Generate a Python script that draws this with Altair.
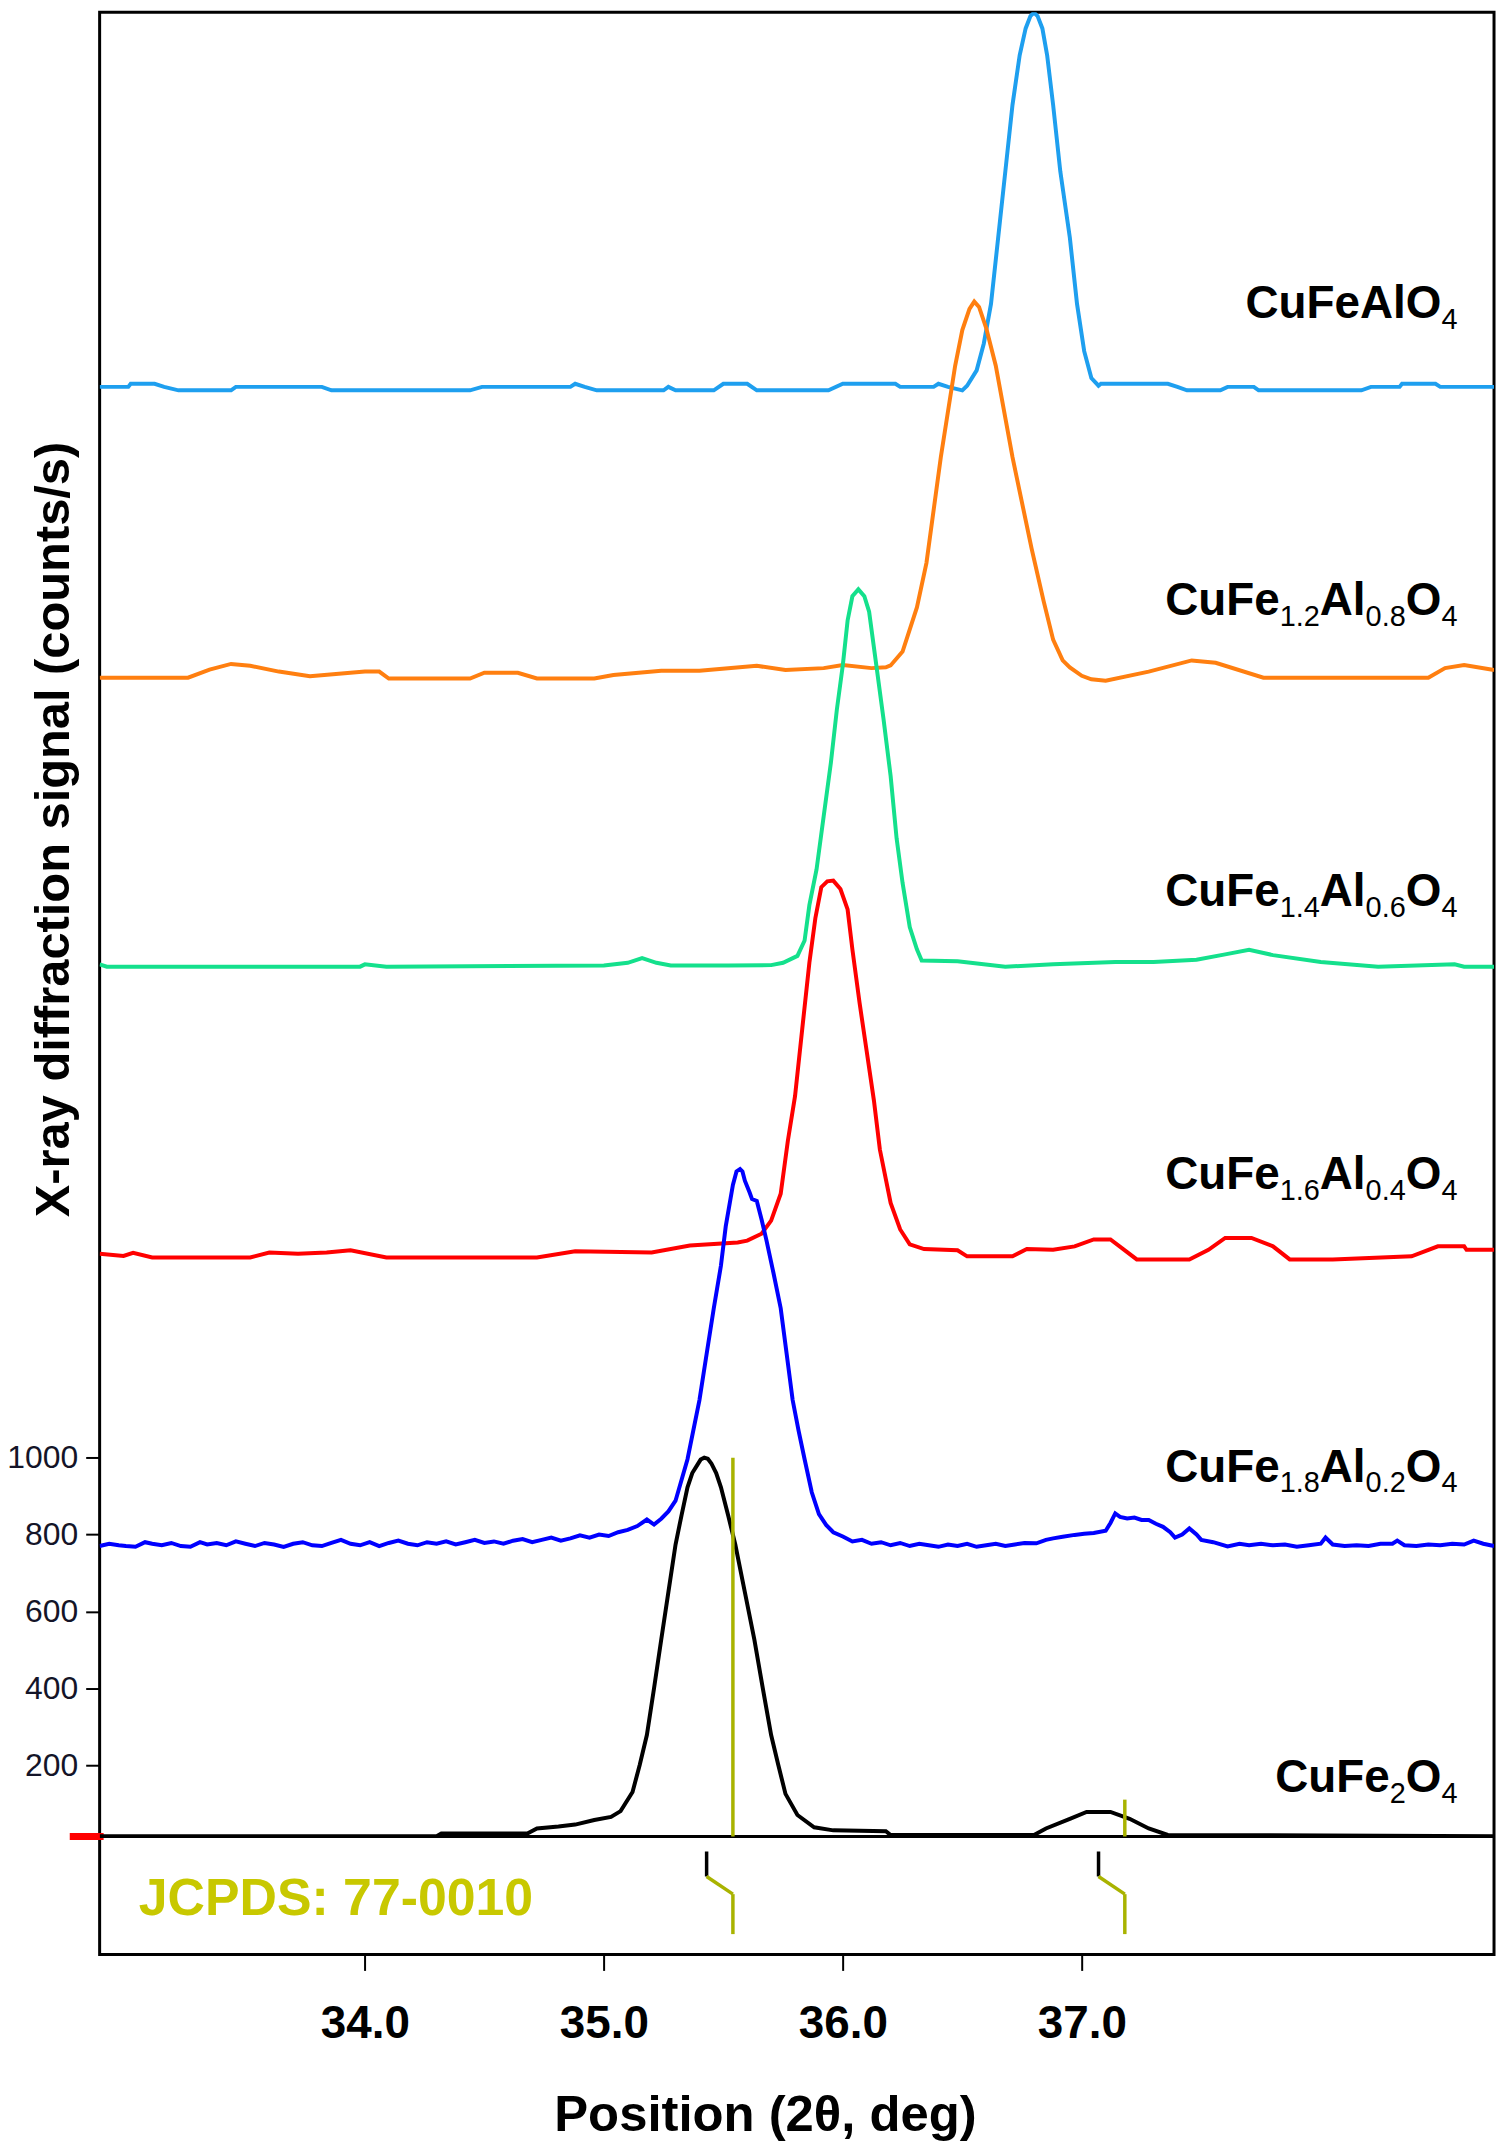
import altair as alt
import pandas as pd

# axis ranges (2-theta in deg, signal in counts/s incl. the stacking offset)
X_MIN, X_MAX = 32.89, 38.725
Y_MIN, Y_MAX = -293, 4762
W, H = 1400, 1950

# ---- patterns (offsets already included) ----
x_alo = [32.89, 33.01, 33.02, 33.12, 33.16, 33.22, 33.44, 33.46, 33.82, 33.86, 34.44, 34.49, 34.86,
         34.88, 34.92, 34.97, 35.25, 35.27, 35.30, 35.46, 35.50, 35.60, 35.64, 35.94, 36.00, 36.22,
         36.24, 36.38, 36.40, 36.44, 36.50, 36.52, 36.56, 36.59, 36.62, 36.65, 36.68, 36.71, 36.74,
         36.765, 36.785, 36.80, 36.815, 36.835, 36.855, 36.88, 36.91, 36.95, 36.98, 37.01, 37.04,
         37.07, 37.08, 37.36, 37.40, 37.44, 37.58, 37.61, 37.72, 37.74, 38.17, 38.21, 38.33, 38.34,
         38.48, 38.50, 38.725]
y_alo = [3787, 3787, 3795, 3795, 3787, 3778, 3778, 3787, 3787, 3778, 3778, 3787, 3787,
         3795, 3787, 3778, 3778, 3787, 3778, 3778, 3795, 3795, 3778, 3778, 3795, 3795,
         3787, 3787, 3795, 3787, 3778, 3790, 3830, 3900, 4003, 4175, 4348, 4521, 4650,
         4720, 4752, 4761, 4752, 4720, 4650, 4521, 4348, 4175, 4003, 3880, 3810,
         3790, 3795, 3795, 3787, 3778, 3778, 3787, 3787, 3778, 3778, 3787, 3787, 3795,
         3795, 3787, 3787]

x_al08 = [32.89, 33.26, 33.35, 33.44, 33.52, 33.64, 33.77, 34.00, 34.06, 34.10, 34.44, 34.50, 34.64,
          34.72, 34.96, 35.04, 35.24, 35.40, 35.64, 35.76, 35.92, 36.00, 36.12, 36.18, 36.20, 36.25,
          36.31, 36.35, 36.41, 36.47, 36.50, 36.53, 36.55, 36.57, 36.60, 36.64, 36.71, 36.79, 36.84,
          36.88, 36.92, 36.95, 37.00, 37.04, 37.10, 37.28, 37.46, 37.56, 37.76, 38.45, 38.52, 38.60,
          38.725]
y_al08 = [3030, 3030, 3051, 3066, 3061, 3046, 3034, 3046, 3046, 3028, 3028, 3043, 3043,
          3028, 3028, 3037, 3048, 3048, 3061, 3050, 3055, 3063, 3055, 3057, 3062, 3098,
          3213, 3329, 3604, 3842, 3935, 3990, 4009, 3995, 3940, 3842, 3604, 3366, 3230,
          3129, 3075, 3057, 3035, 3026, 3022, 3046, 3075, 3069, 3030, 3030, 3055, 3063,
          3050]

x_al06 = [32.89, 32.92, 33.98, 34.00, 34.09, 35.00, 35.10, 35.16, 35.22, 35.28, 35.52, 35.70, 35.75,
          35.81, 35.84, 35.86, 35.89, 35.92, 35.95, 35.975, 36.00, 36.02, 36.04, 36.065, 36.09, 36.11,
          36.14, 36.17, 36.20, 36.225, 36.25, 36.28, 36.31, 36.33, 36.48, 36.68, 36.88, 37.14, 37.30,
          37.48, 37.60, 37.70, 37.80, 38.00, 38.24, 38.56, 38.60, 38.725]
y_al06 = [2284, 2278, 2278, 2284, 2278, 2281, 2288, 2300, 2288, 2281, 2281, 2282, 2288,
          2306, 2346, 2438, 2531, 2670, 2809, 2947, 3063, 3179, 3242, 3260, 3242, 3202,
          3063, 2924, 2774, 2612, 2496, 2381, 2323, 2294, 2292, 2278, 2284, 2290, 2290,
          2296, 2310, 2322, 2308, 2290, 2278, 2284, 2278, 2278]

x_al04 = [32.89, 32.99, 33.03, 33.11, 33.52, 33.60, 33.72, 33.84, 33.94, 34.09, 34.72, 34.88, 35.20,
          35.36, 35.56, 35.60, 35.66, 35.70, 35.74, 35.77, 35.80, 35.83, 35.86, 35.885, 35.91, 35.935,
          35.96, 35.99, 36.02, 36.04, 36.07, 36.10, 36.13, 36.155, 36.20, 36.24, 36.28, 36.34, 36.48,
          36.52, 36.57, 36.71, 36.77, 36.88, 36.97, 37.05, 37.12, 37.23, 37.45, 37.53, 37.60, 37.71,
          37.80, 37.87, 38.05, 38.38, 38.49, 38.60, 38.61, 38.725]
y_al04 = [1531, 1525, 1533, 1521, 1521, 1534, 1531, 1534, 1540, 1521, 1521, 1537, 1534,
          1552, 1560, 1565, 1583, 1617, 1687, 1825, 1941, 2115, 2288, 2404, 2485, 2500,
          2502, 2480, 2427, 2323, 2184, 2057, 1930, 1802, 1663, 1594, 1555, 1543, 1540,
          1524, 1524, 1524, 1543, 1541, 1550, 1568, 1568, 1516, 1516, 1541, 1572, 1572,
          1550, 1516, 1516, 1524, 1550, 1550, 1541, 1541]

x_al02 = [32.89, 32.93, 32.97, 33.00, 33.04, 33.08, 33.11, 33.15, 33.19, 33.23, 33.27, 33.31, 33.34,
          33.38, 33.42, 33.46, 33.50, 33.54, 33.58, 33.62, 33.66, 33.70, 33.74, 33.78, 33.82, 33.86,
          33.90, 33.94, 33.98, 34.02, 34.06, 34.10, 34.14, 34.18, 34.22, 34.26, 34.30, 34.34, 34.38,
          34.42, 34.46, 34.50, 34.54, 34.58, 34.62, 34.66, 34.70, 34.74, 34.78, 34.82, 34.86, 34.90,
          34.94, 34.98, 35.02, 35.06, 35.10, 35.14, 35.18, 35.21, 35.24, 35.27, 35.30, 35.35, 35.40,
          35.43, 35.46, 35.49, 35.51, 35.54, 35.555, 35.57, 35.58, 35.59, 35.61, 35.62, 35.64, 35.66,
          35.68, 35.71, 35.74, 35.765, 35.79, 35.815, 35.84, 35.87, 35.90, 35.93, 35.96, 36.00,
          36.04, 36.08, 36.12, 36.16, 36.20, 36.24, 36.28, 36.32, 36.36, 36.40, 36.44, 36.48, 36.52,
          36.56, 36.60, 36.64, 36.68, 36.72, 36.76, 36.81, 36.85, 36.88, 36.92, 36.97, 37.01, 37.05,
          37.10, 37.12, 37.14, 37.16, 37.19, 37.22, 37.25, 37.28, 37.31, 37.34, 37.37, 37.39, 37.42,
          37.45, 37.48, 37.50, 37.55, 37.61, 37.66, 37.70, 37.75, 37.80, 37.85, 37.90, 37.95, 38.00,
          38.02, 38.05, 38.10, 38.15, 38.20, 38.25, 38.30, 38.32, 38.35, 38.40, 38.45, 38.50, 38.55,
          38.60, 38.64, 38.68, 38.725]
y_al02 = [770, 776, 772, 770, 768, 780, 776, 772, 778, 770, 768, 780, 774,
          778, 772, 782, 776, 770, 778, 774, 768, 776, 780, 772, 770, 778,
          786, 776, 772, 780, 770, 778, 784, 776, 772, 780, 776, 782, 774,
          780, 786, 778, 782, 776, 784, 788, 780, 786, 792, 784, 790, 798,
          792, 800, 796, 806, 812, 822, 839, 826, 841, 860, 888, 996, 1150,
          1270, 1389, 1500, 1602, 1710, 1745, 1751, 1745, 1721, 1690, 1673, 1668, 1620,
          1567, 1480, 1389, 1270, 1150, 1070, 996, 910, 853, 825, 806, 795,
          782, 786, 776, 780, 772, 778, 770, 776, 772, 768, 774, 770, 776,
          768, 772, 776, 770, 774, 778, 777, 786, 790, 794, 799, 802, 804,
          810, 830, 855, 846, 842, 844, 838, 838, 828, 820, 806, 792, 800,
          816, 800, 786, 780, 769, 776, 772, 776, 772, 774, 768, 772, 776,
          792, 774, 770, 772, 770, 776, 776, 784, 772, 770, 774, 772, 776,
          774, 784, 776, 770]

x_fe2 = [32.89, 34.30, 34.32, 34.68, 34.72, 34.81, 34.88, 34.96, 35.03, 35.07, 35.12, 35.15, 35.18,
         35.21, 35.24, 35.27, 35.30, 35.325, 35.35, 35.37, 35.39, 35.405, 35.42, 35.435, 35.45,
         35.47, 35.49, 35.52, 35.55, 35.59, 35.63, 35.665, 35.70, 35.73, 35.76, 35.81, 35.88, 35.96,
         36.18, 36.20, 36.80, 36.85, 36.95, 37.02, 37.12, 37.20, 37.28, 37.36, 38.725]
y_fe2 = [15, 15, 22, 22, 35, 40, 45, 57, 65, 80, 130, 200, 278,
         400, 526, 650, 774, 850, 923, 960, 980, 995, 1000, 997, 985,
         960, 923, 850, 774, 650, 526, 400, 278, 200, 125, 70, 38, 30,
         28, 18, 18, 35, 60, 78, 78, 60, 35, 18, 15]

series = [
    ("CuFeAlO4", x_alo, y_alo, "#1E9FEF"),
    ("CuFe1.2Al0.8O4", x_al08, y_al08, "#FF7F10"),
    ("CuFe1.4Al0.6O4", x_al06, y_al06, "#14E08C"),
    ("CuFe1.6Al0.4O4", x_al04, y_al04, "#FF0000"),
    ("CuFe1.8Al0.2O4", x_al02, y_al02, "#0000FF"),
    ("CuFe2O4", x_fe2, y_fe2, "#000000"),
]

# labels: (text, is_subscript) pieces, baseline level in counts
label_parts = [
    [("CuFeAlO", 0), ("4", 1)],
    [("CuFe", 0), ("1.2", 1), ("Al", 0), ("0.8", 1), ("O", 0), ("4", 1)],
    [("CuFe", 0), ("1.4", 1), ("Al", 0), ("0.6", 1), ("O", 0), ("4", 1)],
    [("CuFe", 0), ("1.6", 1), ("Al", 0), ("0.4", 1), ("O", 0), ("4", 1)],
    [("CuFe", 0), ("1.8", 1), ("Al", 0), ("0.2", 1), ("O", 0), ("4", 1)],
    [("CuFe", 0), ("2", 1), ("O", 0), ("4", 1)],
]
label_base = [3967, 3194, 2435, 1699, 938, 130]
LABEL_RIGHT = 38.572

# JCPDS 77-0010 reference lines
ref_pos = [35.54, 37.18]
ref_int = [1000, 110]
obs_pos = [35.43, 37.07]
yticks = [200, 400, 600, 800, 1000]
xticks = [34, 35, 36, 37]

MAIN_SIZE, SUB_SIZE = 46, 29
BOLD_W = {"C": 722, "u": 611, "F": 611, "e": 556, "A": 722, "l": 278, "O": 778}
REG_W = {".": 278}


def text_width(t, sub):
    if sub:
        return sum(REG_W.get(c, 556) for c in t) * SUB_SIZE / 1000
    return sum(BOLD_W[c] for c in t) * MAIN_SIZE / 1000


deg_px = W / (X_MAX - X_MIN)
main_rows, sub_rows = [], []
for parts, base in zip(label_parts, label_base):
    right = LABEL_RIGHT
    for t, sub in reversed(parts):
        (sub_rows if sub else main_rows).append({"x": right, "y": base, "t": t})
        right -= text_width(t, sub) / deg_px

xs = alt.Scale(domain=[X_MIN, X_MAX], nice=False, zero=False)
ys = alt.Scale(domain=[Y_MIN, Y_MAX], nice=False, zero=False)

x_axis = alt.Axis(values=xticks, format=".1f", labelFontSize=46, labelFontWeight="bold",
                  labelColor="black", tickSize=16, tickWidth=2, tickColor="black",
                  labelPadding=31, domain=False, grid=False,
                  title="Position (2θ, deg)", titleFontSize=51, titleFontWeight="bold",
                  titleColor="black", titleX=668, titleY=177, titleBaseline="alphabetic")
y_axis = alt.Axis(values=yticks, format="d", labelFontSize=32, labelFontWeight="normal",
                  labelColor="#141428", tickSize=14, tickWidth=2, tickColor="black", labelPadding=8,
                  domain=False, grid=False,
                  title="X-ray diffraction signal (counts/s)", titleFontSize=49,
                  titleFontWeight="bold", titleColor="black", titleX=-31, titleY=820,
                  titleBaseline="alphabetic")

# separator between pattern pane and reference pane
sep = alt.Chart(pd.DataFrame({"y": [14]})).mark_rule(color="black", strokeWidth=3).encode(
    y=alt.Y("y:Q", scale=ys, axis=y_axis)
)
red_mark = alt.Chart(pd.DataFrame({"y": [14]})).mark_rule(color="#FF0000", strokeWidth=7).encode(
    x=alt.value(-30), x2=alt.value(4), y=alt.Y("y:Q", scale=ys)
)

layers = [sep, red_mark]
for name, xv, yv, col in series:
    df = pd.DataFrame({"x": xv, "y": yv})
    layers.append(
        alt.Chart(df).mark_line(color=col, strokeWidth=4, clip=True).encode(
            x=alt.X("x:Q", scale=xs, axis=x_axis),
            y=alt.Y("y:Q", scale=ys),
        )
    )

# reference sticks and the leader lines in the lower pane
seg = []
for r, h, o in zip(ref_pos, ref_int, obs_pos):
    seg.append({"x": r, "y": 14, "x2": r, "y2": h, "c": "#A9B300"})
    seg.append({"x": o, "y": -25, "x2": o, "y2": -90, "c": "#000000"})
    seg.append({"x": o, "y": -90, "x2": r, "y2": -136, "c": "#A9B300"})
    seg.append({"x": r, "y": -136, "x2": r, "y2": -240, "c": "#A9B300"})
refs = alt.Chart(pd.DataFrame(seg)).mark_rule(strokeWidth=3.5).encode(
    x=alt.X("x:Q", scale=xs), x2="x2:Q",
    y=alt.Y("y:Q", scale=ys), y2="y2:Q",
    color=alt.Color("c:N", scale=None),
)
layers.append(refs)

main_txt = alt.Chart(pd.DataFrame(main_rows)).mark_text(
    align="right", baseline="alphabetic", fontSize=MAIN_SIZE, fontWeight="bold", color="black"
).encode(x=alt.X("x:Q", scale=xs), y=alt.Y("y:Q", scale=ys), text="t:N")
sub_txt = alt.Chart(pd.DataFrame(sub_rows)).mark_text(
    align="right", baseline="alphabetic", fontSize=SUB_SIZE, fontWeight="normal", color="black", dy=11
).encode(x=alt.X("x:Q", scale=xs), y=alt.Y("y:Q", scale=ys), text="t:N")

jcpds = alt.Chart(pd.DataFrame({"x": [33.054], "y": [-189], "t": ["JCPDS: 77-0010"]})).mark_text(
    align="left", baseline="alphabetic", fontSize=52, fontWeight="bold", color="#C8C800"
).encode(x=alt.X("x:Q", scale=xs), y=alt.Y("y:Q", scale=ys), text="t:N")

layers += [main_txt, sub_txt, jcpds]

chart = alt.layer(*layers).properties(
    width=W, height=H,
    autosize=alt.AutoSizeParams(type="none"),
    padding={"left": 92, "top": 0, "right": 6, "bottom": 185},
).configure(font="Liberation Sans", background="white").configure_view(
    stroke="black", strokeWidth=3
)

chart.save("out.html", embed_options={"renderer": "svg", "actions": False})
